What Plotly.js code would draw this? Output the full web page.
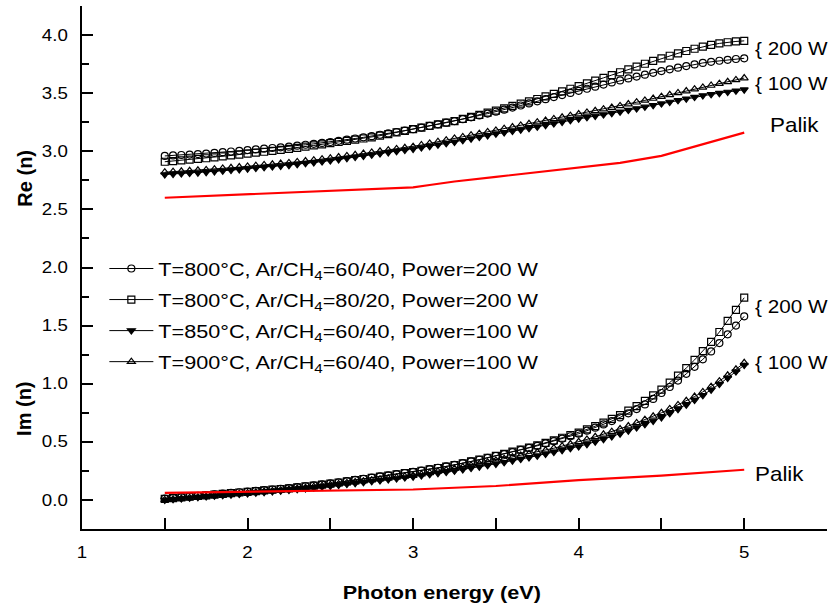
<!DOCTYPE html>
<html>
<head>
<meta charset="utf-8">
<script src="https://cdn.plot.ly/plotly-3.0.1.min.js"></script>
<style>html,body{margin:0;padding:0;background:#fff}#chart{width:830px;height:611px}</style>
</head>
<body>
<div id="chart"></div>
<script>
// Photon energy (eV)
const energy = [1.50,1.55,1.60,1.65,1.70,1.75,1.80,1.85,1.90,1.95,2.00,2.05,2.10,2.15,2.20,2.25,2.30,2.35,2.40,2.45,2.50,2.55,2.60,2.65,2.70,2.75,2.80,2.85,2.90,2.95,3.00,3.05,3.10,3.15,3.20,3.25,3.30,3.35,3.40,3.45,3.50,3.55,3.60,3.65,3.70,3.75,3.80,3.85,3.90,3.95,4.00,4.05,4.10,4.15,4.20,4.25,4.30,4.35,4.40,4.45,4.50,4.55,4.60,4.65,4.70,4.75,4.80,4.85,4.90,4.95,5.00];

const seriesNames = [
  "T=800°C, Ar/CH<sub>4</sub>=60/40, Power=200 W",
  "T=800°C, Ar/CH<sub>4</sub>=80/20, Power=200 W",
  "T=850°C, Ar/CH<sub>4</sub>=60/40, Power=100 W",
  "T=900°C, Ar/CH<sub>4</sub>=60/40, Power=100 W"
];

// Real part
const re_800_6040_200 = [2.960,2.964,2.968,2.972,2.976,2.980,2.986,2.992,2.998,3.004,3.010,3.016,3.022,3.028,3.034,3.040,3.048,3.056,3.064,3.072,3.080,3.090,3.100,3.110,3.120,3.130,3.142,3.154,3.166,3.178,3.190,3.204,3.218,3.232,3.246,3.260,3.276,3.292,3.308,3.324,3.340,3.358,3.376,3.394,3.412,3.430,3.448,3.466,3.484,3.502,3.520,3.538,3.556,3.574,3.592,3.610,3.627,3.643,3.659,3.675,3.690,3.705,3.719,3.733,3.747,3.760,3.770,3.779,3.787,3.794,3.800];
const re_800_8020_200 = [2.910,2.916,2.922,2.928,2.934,2.940,2.948,2.956,2.964,2.972,2.980,2.988,2.996,3.004,3.012,3.020,3.030,3.040,3.050,3.060,3.070,3.080,3.090,3.100,3.110,3.120,3.134,3.148,3.162,3.176,3.190,3.204,3.218,3.232,3.246,3.260,3.278,3.296,3.314,3.332,3.350,3.370,3.390,3.410,3.430,3.450,3.472,3.494,3.516,3.538,3.560,3.584,3.608,3.632,3.656,3.680,3.705,3.729,3.753,3.777,3.800,3.822,3.843,3.863,3.882,3.900,3.915,3.928,3.938,3.945,3.950];
const re_850_6040_100 = [2.800,2.804,2.808,2.812,2.816,2.820,2.826,2.832,2.838,2.844,2.850,2.856,2.862,2.868,2.874,2.880,2.888,2.896,2.904,2.912,2.920,2.930,2.940,2.950,2.960,2.970,2.980,2.990,3.000,3.010,3.020,3.032,3.044,3.056,3.068,3.080,3.094,3.108,3.122,3.136,3.150,3.162,3.174,3.186,3.198,3.210,3.224,3.238,3.252,3.266,3.280,3.292,3.304,3.316,3.328,3.340,3.354,3.368,3.382,3.396,3.410,3.424,3.438,3.452,3.466,3.480,3.490,3.500,3.510,3.520,3.530];
const re_900_6040_100 = [2.820,2.824,2.828,2.832,2.836,2.840,2.846,2.852,2.858,2.864,2.870,2.876,2.882,2.888,2.894,2.900,2.908,2.916,2.924,2.932,2.940,2.950,2.960,2.970,2.980,2.990,3.000,3.010,3.020,3.030,3.040,3.054,3.068,3.082,3.096,3.110,3.124,3.138,3.152,3.166,3.180,3.194,3.208,3.222,3.236,3.250,3.264,3.278,3.292,3.306,3.320,3.334,3.348,3.362,3.376,3.390,3.406,3.422,3.438,3.454,3.470,3.486,3.502,3.518,3.534,3.550,3.566,3.582,3.598,3.614,3.630];

// Imaginary part
const im_800_6040_200 = [0.012,0.018,0.024,0.030,0.036,0.042,0.048,0.054,0.060,0.066,0.072,0.078,0.084,0.090,0.096,0.102,0.110,0.118,0.126,0.134,0.142,0.152,0.162,0.172,0.182,0.192,0.202,0.212,0.222,0.232,0.242,0.253,0.265,0.277,0.289,0.301,0.316,0.331,0.346,0.362,0.378,0.395,0.412,0.430,0.448,0.466,0.486,0.506,0.527,0.548,0.570,0.596,0.622,0.650,0.679,0.710,0.745,0.782,0.822,0.869,0.920,0.972,1.027,1.085,1.145,1.210,1.278,1.350,1.425,1.500,1.580];
const im_800_8020_200 = [0.010,0.016,0.022,0.028,0.034,0.040,0.046,0.052,0.058,0.064,0.070,0.076,0.082,0.088,0.094,0.100,0.108,0.116,0.124,0.132,0.140,0.150,0.160,0.170,0.180,0.190,0.200,0.210,0.220,0.230,0.240,0.251,0.263,0.275,0.287,0.300,0.315,0.331,0.347,0.363,0.380,0.397,0.415,0.433,0.451,0.470,0.491,0.513,0.535,0.557,0.580,0.607,0.635,0.665,0.697,0.730,0.768,0.808,0.852,0.899,0.950,1.010,1.070,1.135,1.205,1.280,1.360,1.445,1.540,1.635,1.740];
const im_850_6040_100 = [0.000,0.006,0.012,0.018,0.024,0.030,0.035,0.040,0.045,0.050,0.055,0.061,0.067,0.073,0.079,0.085,0.092,0.099,0.106,0.113,0.120,0.128,0.136,0.144,0.152,0.160,0.168,0.176,0.184,0.192,0.200,0.210,0.220,0.230,0.240,0.250,0.262,0.274,0.286,0.298,0.310,0.324,0.338,0.352,0.366,0.380,0.396,0.412,0.428,0.444,0.460,0.480,0.501,0.523,0.546,0.570,0.596,0.623,0.651,0.680,0.710,0.745,0.781,0.819,0.859,0.900,0.947,0.997,1.050,1.104,1.160];
const im_900_6040_100 = [0.000,0.006,0.012,0.018,0.024,0.030,0.036,0.042,0.048,0.054,0.060,0.066,0.072,0.078,0.084,0.090,0.098,0.106,0.114,0.122,0.130,0.138,0.146,0.154,0.162,0.170,0.178,0.186,0.194,0.202,0.210,0.221,0.233,0.245,0.257,0.270,0.283,0.297,0.311,0.325,0.340,0.354,0.368,0.382,0.396,0.410,0.427,0.445,0.463,0.481,0.500,0.521,0.543,0.565,0.587,0.610,0.636,0.663,0.691,0.720,0.750,0.783,0.817,0.853,0.890,0.930,0.975,1.022,1.072,1.124,1.180];

// Palik reference
const palikReEnergy = [1.5,1.75,2.0,2.25,2.5,2.75,3.0,3.1,3.25,3.5,3.75,4.0,4.25,4.5,4.75,5.0];
const palikRe = [2.60,2.615,2.63,2.645,2.66,2.675,2.69,2.71,2.74,2.78,2.82,2.86,2.90,2.96,3.06,3.16];
const palikImEnergy = [1.5,2.0,2.5,2.8,3.0,3.5,4.0,4.5,5.0];
const palikIm = [0.06,0.07,0.075,0.08,0.09,0.12,0.17,0.21,0.26];

const symbols = ["circle-open","square-open","triangle-down","triangle-up-open"];
const reSets = [re_800_6040_200, re_800_8020_200, re_850_6040_100, re_900_6040_100];
const imSets = [im_800_6040_200, im_800_8020_200, im_850_6040_100, im_900_6040_100];

const traces = [];
for (let i = 0; i < 4; i++) {
  const mk = {symbol: symbols[i], size: 7, color: "#000", line: {color: "#000", width: 1.2}};
  traces.push({x: energy, y: reSets[i], type: "scatter", mode: "lines+markers",
    name: seriesNames[i], legendgroup: "g" + i, line: {color: "#000", width: 1}, marker: mk});
  traces.push({x: energy, y: imSets[i], type: "scatter", mode: "lines+markers",
    name: seriesNames[i], legendgroup: "g" + i, showlegend: false, line: {color: "#000", width: 1}, marker: mk});
}
traces.push({x: palikReEnergy, y: palikRe, type: "scatter", mode: "lines", showlegend: false,
  line: {color: "#ff0000", width: 2.2}});
traces.push({x: palikImEnergy, y: palikIm, type: "scatter", mode: "lines", showlegend: false,
  line: {color: "#ff0000", width: 2.2}});

const fnt = "Liberation Sans, Arial, sans-serif";
const ann = (x, y, t, size) => ({x: x, y: y, xref: "x", yref: "y", text: t, showarrow: false,
  xanchor: "left", yanchor: "middle", font: {family: fnt, size: size, color: "#000"}});

const layout = {
  width: 830, height: 611,
  margin: {l: 82, r: 3, t: 6, b: 82},
  paper_bgcolor: "#fff", plot_bgcolor: "#fff",
  font: {family: fnt, color: "#000"},
  showlegend: true,
  legend: {x: 0.03, y: 0.5335, xanchor: "left", yanchor: "top", bgcolor: "rgba(0,0,0,0)",
    font: {family: fnt, size: 18.5, color: "#000"}, tracegroupgap: 4, itemwidth: 44},
  xaxis: {range: [1, 5.5], dtick: 1, tick0: 1, ticks: "inside", ticklen: 11, tickwidth: 2, tickcolor: "#000",
    showline: true, linewidth: 2, linecolor: "#000", showgrid: false, zeroline: false,
    minor: {dtick: 0.5, ticks: "inside", ticklen: 11, tickwidth: 2, tickcolor: "#000", showgrid: false},
    tickfont: {family: fnt, size: 16, color: "#000"}, ticklabelstandoff: 8},
  yaxis: {range: [-0.25, 4.25], dtick: 0.5, tick0: 0, tickformat: ".1f", ticks: "inside", ticklen: 11, tickwidth: 2, tickcolor: "#000",
    showline: true, linewidth: 2, linecolor: "#000", showgrid: false, zeroline: false,
    minor: {dtick: 0.25, ticks: "inside", ticklen: 7, tickwidth: 2, tickcolor: "#000", showgrid: false},
    tickfont: {family: fnt, size: 16, color: "#000"}, ticklabelstandoff: 9},
  annotations: [
    ann(5.05, 3.88, "{ 200 W", 18),
    ann(5.05, 3.58, "{ 100 W", 18),
    ann(5.145, 3.23, "Palik", 20),
    ann(5.05, 1.66, "{ 200 W", 18),
    ann(5.05, 1.18, "{ 100 W", 18),
    ann(5.05, 0.22, "Palik", 20),
    {x: 0.483, y: -0.122, xref: "paper", yref: "paper", text: "<b>Photon energy (eV)</b>", showarrow: false,
      xanchor: "center", yanchor: "middle", font: {family: fnt, size: 18.5, color: "#000"}},
    {x: -0.077, y: 2.77, xref: "paper", yref: "y", text: "<b>Re (n)</b>", textangle: -90, showarrow: false,
      xanchor: "center", yanchor: "middle", font: {family: fnt, size: 20, color: "#000"}},
    {x: -0.077, y: 0.78, xref: "paper", yref: "y", text: "<b>Im (n)</b>", textangle: -90, showarrow: false,
      xanchor: "center", yanchor: "middle", font: {family: fnt, size: 20, color: "#000"}}
  ]
};

Plotly.newPlot("chart", traces, layout, {displayModeBar: false, staticPlot: true}).then(function (gd) {
  // the reference's lettering is slightly wide: stretch it horizontally about its anchor
  gd.querySelectorAll(".legend [clip-path]").forEach(function (e) { e.removeAttribute("clip-path"); });
  gd.querySelectorAll("svg text").forEach(function (t) {
    if (/\(n\)/.test(t.textContent)) return;
    let px, sx = 1.17;
    if (t.closest(".annotation")) {
      const bb = t.getBBox();
      const isTitle = t.textContent.indexOf("Photon") >= 0;
      px = isTitle ? bb.x + bb.width / 2 : bb.x;
      if (!isTitle) sx = t.textContent.indexOf("Palik") >= 0 ? 1.12 : 1.15;
    } else {
      px = parseFloat(t.getAttribute("x")) || 0;
    }
    const tr = t.getAttribute("transform") || "";
    t.setAttribute("transform", tr + " translate(" + px + ",0) scale(" + sx + ",1) translate(" + (-px) + ",0)");
  });
});
</script>
</body>
</html>
